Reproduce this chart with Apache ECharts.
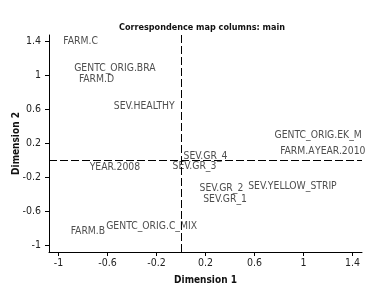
<!doctype html>
<html>
<head>
<meta charset="UTF-8">
<title>Correspondence map</title>
<script src="https://cdn.jsdelivr.net/npm/echarts@6/dist/echarts.min.js"></script>
<style>
  html, body { margin: 0; padding: 0; background: #fff; }
  #main { width: 375px; height: 292px; }
</style>
</head>
<body>
<div id="main"></div>
<script>
// category labels and their coordinates
var labels = ['FARM.C', 'GENTC_ORIG.BRA', 'FARM.D', 'SEV.HEALTHY', 'GENTC_ORIG.EK_M',
              'FARM.A', 'YEAR.2010', 'SEV.GR_4', 'YEAR.2008', 'SEV.GR_3', 'SEV.GR_2',
              'SEV.YELLOW_STRIP', 'SEV.GR_1', 'FARM.B', 'GENTC_ORIG.C_MIX'];
var dim1 = [-0.82, -0.54, -0.69, -0.30, 1.12, 0.95, 1.30, 0.20, -0.54, 0.11, 0.33, 0.91, 0.36, -0.76, -0.24];
var dim2 = [1.40, 1.08, 0.95, 0.635, 0.29, 0.106, 0.106, 0.05, -0.08, -0.07, -0.33, -0.31, -0.46, -0.84, -0.78];
var xTicks = [-1, -0.6, -0.2, 0.2, 0.6, 1, 1.4];
var yTicks = [-1, -0.6, -0.2, 0.2, 0.6, 1, 1.4];

var font = '"Liberation Sans Narrow", "DejaVu Sans Condensed", Arial, sans-serif';

var points = labels.map(function (n, i) {
    return { name: n, value: [dim1[i], dim2[i]] };
});

var myChart = echarts.init(document.getElementById('main'));

var option = {
    animation: false,
    title: {
        text: 'Correspondence map columns: main',
        left: 119, top: 23, padding: 0,
        textStyle: { fontFamily: font, fontSize: 9, fontWeight: 'bold', color: '#111' }
    },
    grid: { left: 49, right: 13, top: 35, bottom: 40, outerBoundsMode: 'none' },
    xAxis: {
        type: 'value', min: -1.078, max: 1.478,
        name: 'Dimension 1', nameLocation: 'middle', nameGap: 23, nameMoveOverlap: false,
        nameTextStyle: { fontFamily: font, fontSize: 10, fontWeight: 'bold', color: '#111' },
        axisLine: { show: true, onZero: false, lineStyle: { color: '#000', width: 1 } },
        axisTick: { show: true, customValues: xTicks, length: 4, lineStyle: { color: '#000' } },
        axisLabel: { customValues: xTicks, fontFamily: font, fontSize: 10.5, color: '#222', margin: 6 },
        splitLine: { show: false }
    },
    yAxis: {
        type: 'value', min: -1.08, max: 1.47,
        name: 'Dimension 2', nameLocation: 'middle', nameGap: 28, nameMoveOverlap: false,
        nameTextStyle: { fontFamily: font, fontSize: 10, fontWeight: 'bold', color: '#111' },
        axisLine: { show: true, onZero: false, lineStyle: { color: '#000', width: 1 } },
        axisTick: { show: true, customValues: yTicks, length: 4, lineStyle: { color: '#000' } },
        axisLabel: { customValues: yTicks, fontFamily: font, fontSize: 10.5, color: '#222', margin: 8 },
        splitLine: { show: false }
    },
    series: [{
        type: 'scatter',
        data: points,
        symbolSize: 0,
        label: {
            show: true, position: 'inside', formatter: '{b}',
            fontFamily: font, fontSize: 10.3, color: '#222'
        },
        markLine: {
            silent: true, symbol: 'none', label: { show: false },
            lineStyle: { color: '#000', width: 1, type: [8, 3] },
            data: [{ xAxis: 0 }, { yAxis: 0 }]
        }
    }]
};

myChart.setOption(option);
</script>
</body>
</html>
